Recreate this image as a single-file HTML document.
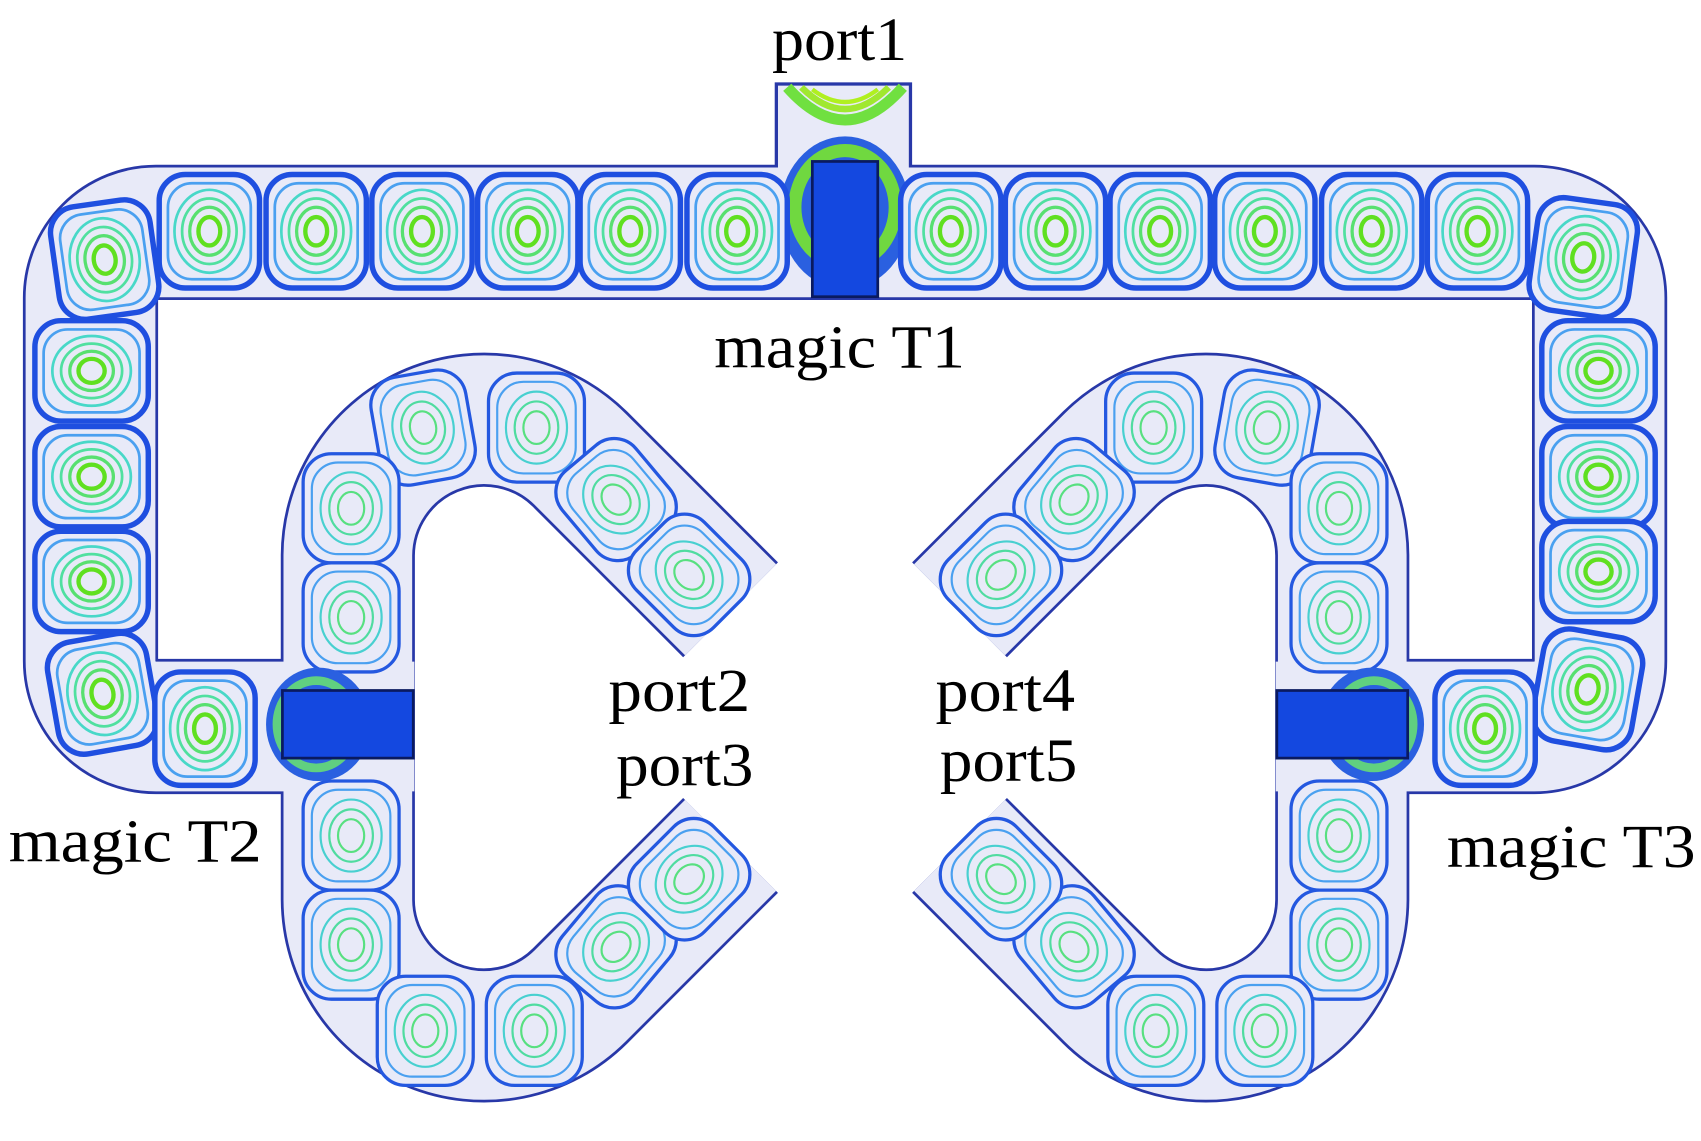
<!DOCTYPE html>
<html><head><meta charset="utf-8"><style>
html,body{margin:0;padding:0;background:#fff;}
svg{display:block;}
text{font-family:"Liberation Serif",serif;fill:#000;}
</style></head><body>
<svg width="1701" height="1141" viewBox="0 0 1560 1046" preserveAspectRatio="none" xmlns="http://www.w3.org/2000/svg">
<defs>
<g id="v">
<rect x="-46" y="-52" width="92" height="104" rx="24" fill="#e8eaf8" stroke="#1f4fe0" stroke-width="5"/>
<rect x="-38" y="-44" width="76" height="88" rx="22" fill="none" stroke="#4aa0f0" stroke-width="2.5"/>
<ellipse cx="0" cy="0" rx="32" ry="38" fill="none" stroke="#48d8c8" stroke-width="2.5"/>
<ellipse cx="0" cy="0" rx="25" ry="30" fill="none" stroke="#50e0a0" stroke-width="2.5"/>
<ellipse cx="0" cy="0" rx="18" ry="22" fill="none" stroke="#58e070" stroke-width="3"/>
<ellipse cx="0" cy="0" rx="10" ry="13" fill="none" stroke="#60e020" stroke-width="4"/>
</g>
<g id="h">
<rect x="-52" y="-46" width="104" height="92" rx="24" fill="#e8eaf8" stroke="#1f4fe0" stroke-width="5"/>
<rect x="-44" y="-38" width="88" height="76" rx="22" fill="none" stroke="#4aa0f0" stroke-width="2.5"/>
<ellipse cx="0" cy="0" rx="36" ry="32" fill="none" stroke="#48d8c8" stroke-width="2.5"/>
<ellipse cx="0" cy="0" rx="28" ry="25" fill="none" stroke="#50e0a0" stroke-width="2.5"/>
<ellipse cx="0" cy="0" rx="20" ry="18" fill="none" stroke="#58e070" stroke-width="3"/>
<ellipse cx="0" cy="0" rx="12" ry="11" fill="none" stroke="#60e020" stroke-width="4"/>
</g>
<g id="w">
<rect x="-44" y="-50" width="88" height="100" rx="26" fill="#e8eaf8" stroke="#2458e0" stroke-width="3"/>
<rect x="-36" y="-42" width="72" height="84" rx="24" fill="none" stroke="#4aa0f0" stroke-width="2"/>
<ellipse cx="0" cy="0" rx="28" ry="33" fill="none" stroke="#48d0d0" stroke-width="2"/>
<ellipse cx="0" cy="0" rx="20" ry="24" fill="none" stroke="#50dca0" stroke-width="2"/>
<ellipse cx="0" cy="0" rx="12" ry="15" fill="none" stroke="#58e080" stroke-width="2"/>
</g>
</defs>

<g fill="none" stroke="#2838a8" stroke-linejoin="round">
<path d="M380,666 L143,666 A60 60 0 0 1 83,606 L83,273 A60 60 0 0 1 143,213 L1407,213 A60 60 0 0 1 1467,273 L1467,606 A60 60 0 0 1 1407,666 L1170,666" stroke-width="124"/>
<path d="M670,559 L532,421 A125 125 0 0 0 319,509 L319,825 A125 125 0 0 0 532,913 L670,775" stroke-width="123"/>
<path d="M880,559 L1018,421 A125 125 0 0 1 1231,509 L1231,825 A125 125 0 0 1 1018,913 L880,775" stroke-width="123"/>
</g>
<rect x="712" y="77" width="123" height="80" fill="#e8eaf8" stroke="#2838a8" stroke-width="3"/>
<g fill="none" stroke="#e8eaf8" stroke-linejoin="round">
<path d="M380,666 L143,666 A60 60 0 0 1 83,606 L83,273 A60 60 0 0 1 143,213 L1407,213 A60 60 0 0 1 1467,273 L1467,606 A60 60 0 0 1 1407,666 L1170,666" stroke-width="119"/>
<path d="M670,559 L532,421 A125 125 0 0 0 319,509 L319,825 A125 125 0 0 0 532,913 L670,775" stroke-width="118"/>
<path d="M880,559 L1018,421 A125 125 0 0 1 1231,509 L1231,825 A125 125 0 0 1 1018,913 L880,775" stroke-width="118"/>
</g>
<rect x="714" y="79" width="119" height="80" fill="#e8eaf8"/>

<path d="M722,80 Q775,140 828,80" fill="none" stroke="#70e040" stroke-width="10"/>
<path d="M735,80 Q775,120 815,80" fill="none" stroke="#a0e830" stroke-width="6"/>
<path d="M745,82 Q775,105 805,82" fill="none" stroke="#b0f020" stroke-width="4"/>
<ellipse cx="775" cy="195" rx="60" ry="70" fill="#2a60e0"/>
<ellipse cx="775" cy="190" rx="46" ry="52" fill="none" stroke="#70d840" stroke-width="12"/>
<rect x="745" y="148" width="60" height="124" fill="#1448e0" stroke="#0a1a60" stroke-width="2.5"/>

<g>
<use href="#v" transform="translate(96,238) rotate(-8)"/>
<use href="#v" transform="translate(192,212)"/>
<use href="#v" transform="translate(290,212)"/>
<use href="#v" transform="translate(387,212)"/>
<use href="#v" transform="translate(484,212)"/>
<use href="#v" transform="translate(578,212)"/>
<use href="#v" transform="translate(676,212)"/>
<use href="#v" transform="translate(872,212)"/>
<use href="#v" transform="translate(968,212)"/>
<use href="#v" transform="translate(1064,212)"/>
<use href="#v" transform="translate(1160,212)"/>
<use href="#v" transform="translate(1258,212)"/>
<use href="#v" transform="translate(1355,212)"/>
<use href="#v" transform="translate(1452,236) rotate(8)"/>
<use href="#h" transform="translate(84,340)"/>
<use href="#h" transform="translate(84,437)"/>
<use href="#h" transform="translate(84,533)"/>
<use href="#v" transform="translate(94,636) rotate(-10)"/>
<use href="#v" transform="translate(188,668)"/>
<use href="#h" transform="translate(1466,340)"/>
<use href="#h" transform="translate(1466,437)"/>
<use href="#h" transform="translate(1466,524)"/>
<use href="#v" transform="translate(1456,632) rotate(10)"/>
<use href="#v" transform="translate(1362,668)"/>
</g>
<g>
<use href="#w" transform="translate(388,392) rotate(-10)"/>
<use href="#w" transform="translate(492,392)"/>
<use href="#w" transform="translate(565,458) rotate(-40)"/>
<use href="#w" transform="translate(632,527) rotate(-45)"/>
<use href="#w" transform="translate(322,466)"/>
<use href="#w" transform="translate(322,566)"/>
<use href="#w" transform="translate(322,766)"/>
<use href="#w" transform="translate(322,866)"/>
<use href="#w" transform="translate(390,945)"/>
<use href="#w" transform="translate(490,945)"/>
<use href="#w" transform="translate(565,868) rotate(40)"/>
<use href="#w" transform="translate(632,806) rotate(45)"/>
</g>
<g>
<use href="#w" transform="translate(1162,392) rotate(10)"/>
<use href="#w" transform="translate(1058,392)"/>
<use href="#w" transform="translate(985,458) rotate(40)"/>
<use href="#w" transform="translate(918,527) rotate(45)"/>
<use href="#w" transform="translate(1228,466)"/>
<use href="#w" transform="translate(1228,566)"/>
<use href="#w" transform="translate(1228,766)"/>
<use href="#w" transform="translate(1228,866)"/>
<use href="#w" transform="translate(1160,945)"/>
<use href="#w" transform="translate(1060,945)"/>
<use href="#w" transform="translate(985,868) rotate(-40)"/>
<use href="#w" transform="translate(918,806) rotate(-45)"/>
</g>

<ellipse cx="292" cy="664" rx="48" ry="52" fill="#2a60e0"/>
<ellipse cx="290" cy="664" rx="36" ry="40" fill="none" stroke="#60d080" stroke-width="8"/>
<rect x="259" y="633" width="120" height="62" fill="#1448e0" stroke="#0a1a60" stroke-width="2.5"/>
<ellipse cx="1258" cy="664" rx="48" ry="52" fill="#2a60e0"/>
<ellipse cx="1260" cy="664" rx="36" ry="40" fill="none" stroke="#60d080" stroke-width="8"/>
<rect x="1171" y="633" width="120" height="62" fill="#1448e0" stroke="#0a1a60" stroke-width="2.5"/>

<text x="708" y="55" font-size="56" textLength="124" lengthAdjust="spacingAndGlyphs">port1</text>
<text x="655" y="337" font-size="56" textLength="230" lengthAdjust="spacingAndGlyphs">magic T1</text>
<text x="558" y="652" font-size="56" textLength="130" lengthAdjust="spacingAndGlyphs">port2</text>
<text x="565" y="720" font-size="56" textLength="126" lengthAdjust="spacingAndGlyphs">port3</text>
<text x="858" y="652" font-size="56" textLength="128" lengthAdjust="spacingAndGlyphs">port4</text>
<text x="862" y="716" font-size="56" textLength="126" lengthAdjust="spacingAndGlyphs">port5</text>
<text x="8" y="790" font-size="56" textLength="232" lengthAdjust="spacingAndGlyphs">magic T2</text>
<text x="1327" y="795" font-size="56" textLength="228" lengthAdjust="spacingAndGlyphs">magic T3</text>
</svg>
</body></html>
